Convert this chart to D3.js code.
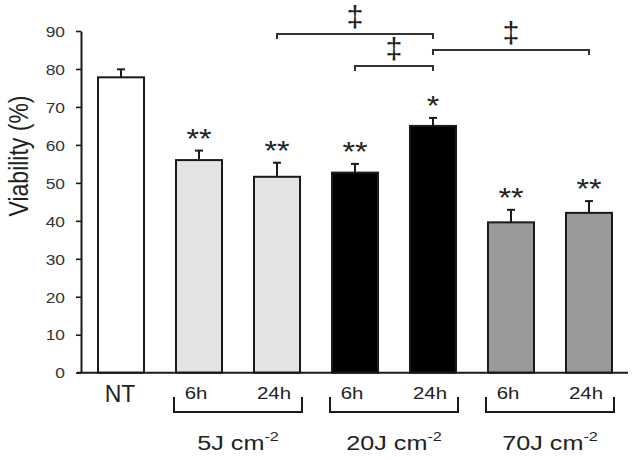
<!DOCTYPE html>
<html><head><meta charset="utf-8">
<script src="https://cdn.jsdelivr.net/npm/d3@7"></script>
<style>
body{margin:0;background:#fff;}
svg{display:block;font-family:"Liberation Sans",Arial,sans-serif;}
</style></head>
<body><svg id="c" width="636" height="459"></svg>
<script>
const categories = ["NT","5J 6h","5J 24h","20J 6h","20J 24h","70J 6h","70J 24h"];
const values = [77.8, 56.0, 51.6, 52.7, 65.0, 39.6, 42.1];
const errors = [2.1, 2.5, 3.7, 2.3, 2.1, 3.3, 3.1];
const stars = ["", "**", "**", "**", "*", "**", "**"];
const timeLabels = ["NT","6h","24h","6h","24h","6h","24h"];
const fills = ["#ffffff","#e4e4e4","#e4e4e4","#000000","#000000","#9a9a9a","#9a9a9a"];
const groups = [
  {dose:"5J", first:1, last:2},
  {dose:"20J", first:3, last:4},
  {dose:"70J", first:5, last:6}
];
const comparisons = [
  {from:2, to:4, level:89.2, mark:"‡"},
  {from:3, to:4, level:80.8, mark:"‡"},
  {from:4, to:6, level:85.0, mark:"‡"}
];
const yTicks = [0,10,20,30,40,50,60,70,80,90];

const SX = 1.2; // horizontal stretch of the lettering
const svg = d3.select("#c");
const y = d3.scaleLinear().domain([0,90]).range([372.7,31]);
const x = d3.scaleBand().domain(categories).range([98,612]).paddingInner(0.41).paddingOuter(0);
const bw = x.bandwidth();
const cx = i => x(categories[i]) + bw/2;
const ink = "#1a1a1a";
const txtCol = "#222";

function label(parent, px, py, str, size, sx){
  return parent.append("text")
    .attr("transform",`translate(${px},${py}) scale(${sx||SX},1)`)
    .attr("text-anchor","middle").attr("font-size",size).attr("fill",txtCol).text(str);
}

// y axis
const ax = svg.append("g").attr("transform","translate(81,0)")
  .call(d3.axisLeft(y).tickValues(yTicks).tickSize(5).tickSizeOuter(0).tickPadding(6));
ax.select(".domain").attr("stroke",ink).attr("stroke-width",2);
ax.selectAll(".tick line").attr("stroke",ink).attr("stroke-width",1.6);
ax.selectAll(".tick text").attr("font-size",14.5).attr("fill","#333")
  .attr("font-family","Liberation Sans, Arial, sans-serif")
  .attr("x",-16/SX).attr("dy","0.36em").attr("transform",`scale(${SX},1)`);

// y label
svg.append("text").attr("transform",`translate(28,156) scale(${SX},1) rotate(-90)`)
  .attr("text-anchor","middle").attr("font-size",23).attr("fill",txtCol)
  .text("Viability (%)");

// bars
svg.append("g").selectAll("rect").data(values).join("rect")
  .attr("x",(d,i)=>x(categories[i])).attr("width",bw)
  .attr("y",d=>y(d)).attr("height",d=>y(0)-y(d))
  .attr("fill",(d,i)=>fills[i]).attr("stroke",ink).attr("stroke-width",2);

// x axis line
svg.append("line").attr("x1",77).attr("x2",628).attr("y1",y(0)).attr("y2",y(0))
  .attr("stroke",ink).attr("stroke-width",2);

// error bars
const eg = svg.append("g").attr("stroke",ink).attr("stroke-width",2);
values.forEach((v,i)=>{
  eg.append("line").attr("x1",cx(i)).attr("x2",cx(i)).attr("y1",y(v)).attr("y2",y(v+errors[i]));
  eg.append("line").attr("x1",cx(i)-4).attr("x2",cx(i)+4).attr("y1",y(v+errors[i])).attr("y2",y(v+errors[i]));
});

// stars
const sg = svg.append("g");
stars.forEach((s,i)=>{ if(s) label(sg, cx(i), y(values[i]+errors[i]) - 3, s, 28, 1.15); });

// comparison brackets
const cg = svg.append("g");
comparisons.forEach(c=>{
  const yl = y(c.level);
  cg.append("path").attr("d",`M${cx(c.from)},${yl+5}V${yl}H${cx(c.to)}V${yl+5}`)
    .attr("fill","none").attr("stroke","#333").attr("stroke-width",2);
  label(cg, (cx(c.from)+cx(c.to))/2, yl-7, c.mark, 29, 1.05);
});

// category labels
timeLabels.forEach((t,i)=>{
  if(i===0) label(svg, cx(i)-1, 402, t, 23, 1);
  else label(svg, cx(i)-3, 399, t, 17);
});

// group brackets and dose labels
groups.forEach(g=>{
  const x1 = x(categories[g.first]) - 2, x2 = x(categories[g.last]) + bw + 2;
  svg.append("path").attr("d",`M${x1},397V412H${x2}V397`)
    .attr("fill","none").attr("stroke",ink).attr("stroke-width",2);
  const t = label(svg, (x1+x2)/2, 450, null, 21);
  t.append("tspan").text(g.dose + " cm");
  t.append("tspan").attr("font-size",13.5).attr("dy",-9).text("-2");
});
</script></body></html>
